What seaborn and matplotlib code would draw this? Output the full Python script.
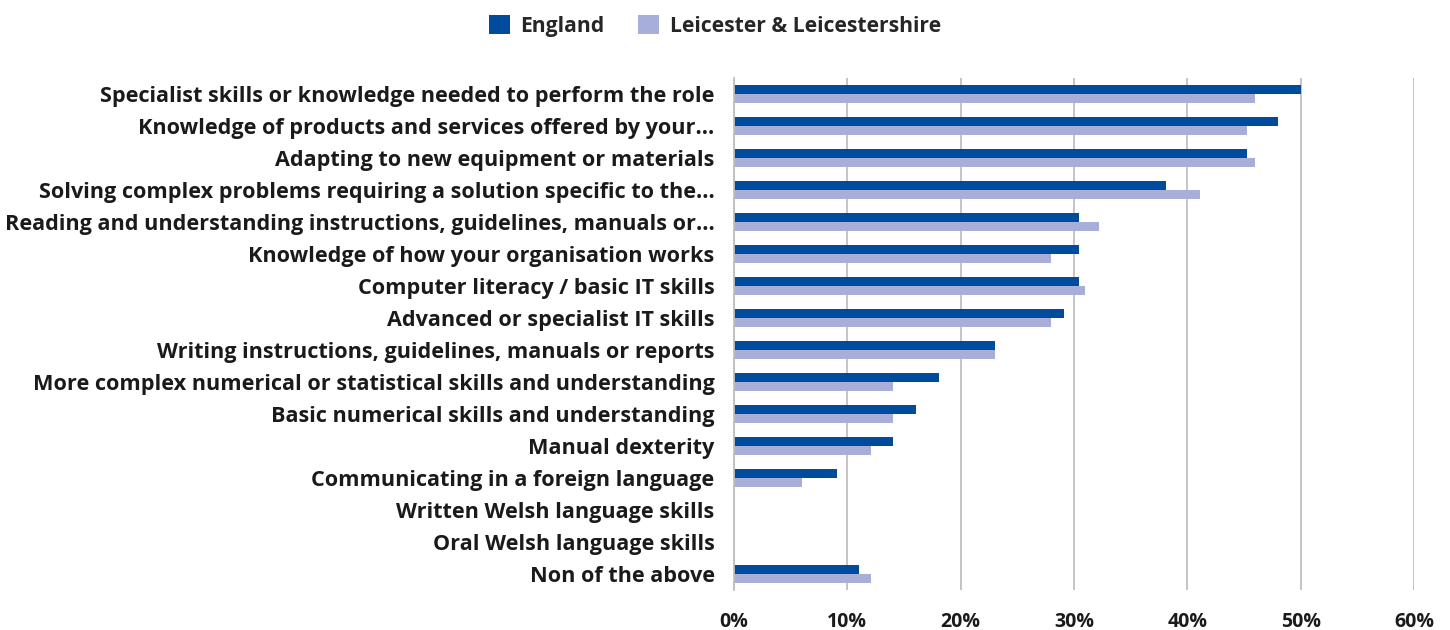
import matplotlib
matplotlib.use("Agg")
import matplotlib.pyplot as plt
from matplotlib.patches import Patch
import seaborn as sns
import pandas as pd

categories = [
    "Specialist skills or knowledge needed to perform the role",
    "Knowledge of products and services offered by your...",
    "Adapting to new equipment or materials",
    "Solving complex problems requiring a solution specific to the...",
    "Reading and understanding instructions, guidelines, manuals or...",
    "Knowledge of how your organisation works",
    "Computer literacy / basic IT skills",
    "Advanced or specialist IT skills",
    "Writing instructions, guidelines, manuals or reports",
    "More complex numerical or statistical skills and understanding",
    "Basic numerical skills and understanding",
    "Manual dexterity",
    "Communicating in a foreign language",
    "Written Welsh language skills",
    "Oral Welsh language skills",
    "Non of the above",
]
england = [50, 48, 45.3, 38.1, 30.4, 30.4, 30.4, 29.1, 23, 18.1, 16.1, 14, 9.1, 0, 0, 11]
leicester = [46, 45.3, 46, 41.1, 32.2, 28, 31, 28, 23, 14, 14, 12.1, 6, 0, 0, 12.1]
series = ["England", "Leicester & Leicestershire"]
x_ticks = [0, 10, 20, 30, 40, 50, 60]

colors = {"England": "#004B9B", "Leicester & Leicestershire": "#A6AED9"}

df = pd.DataFrame({
    "category": categories * 2,
    "series": [series[0]] * len(categories) + [series[1]] * len(categories),
    "value": england + leicester,
})

sns.set_theme(style="white")
plt.rcParams["font.family"] = ["Open Sans", "DejaVu Sans"]
plt.rcParams["font.weight"] = "bold"

fig = plt.figure(figsize=(14.5, 6.3), dpi=100)
ax = fig.add_axes([734 / 1450, 1 - 590 / 630, 680 / 1450, 512 / 630])

sns.barplot(data=df, y="category", x="value", hue="series", order=categories,
            hue_order=series, palette=colors, orient="h", width=0.56,
            saturation=1, ax=ax, legend=False, linewidth=0)

ax.set_xlim(0, 60)
ax.set_ylim(len(categories) - 0.5, -0.5)
ax.set_xticks(x_ticks)
ax.set_xticklabels([f"{t}%" for t in x_ticks], fontsize=14, fontweight="bold", color="#1a1a1a")
ax.tick_params(axis="x", length=0, pad=16)
ax.tick_params(axis="y", length=0, pad=14)
for lbl in ax.get_yticklabels():
    lbl.set_fontsize(15.6)
    lbl.set_fontweight("bold")
    lbl.set_color("#1a1a1a")
ax.set_xlabel("")
ax.set_ylabel("")
ax.grid(axis="x", color="#bfbfbf", linewidth=1.3)
ax.set_axisbelow(True)
for side in ["top", "right", "bottom"]:
    ax.spines[side].set_visible(False)
ax.spines["left"].set_color("#bfbfbf")
ax.spines["left"].set_linewidth(1.3)

handles = [Patch(facecolor=colors[s], edgecolor="none") for s in series]
fig.legend(handles, series, loc="center", bbox_to_anchor=(0.493, 1 - 26 / 630), ncol=2,
           frameon=False, prop={"size": 15.2, "weight": "bold"}, handlelength=1.0,
           handleheight=1.0, handletextpad=0.5, columnspacing=1.6)

fig.savefig("out.png", dpi=100)
